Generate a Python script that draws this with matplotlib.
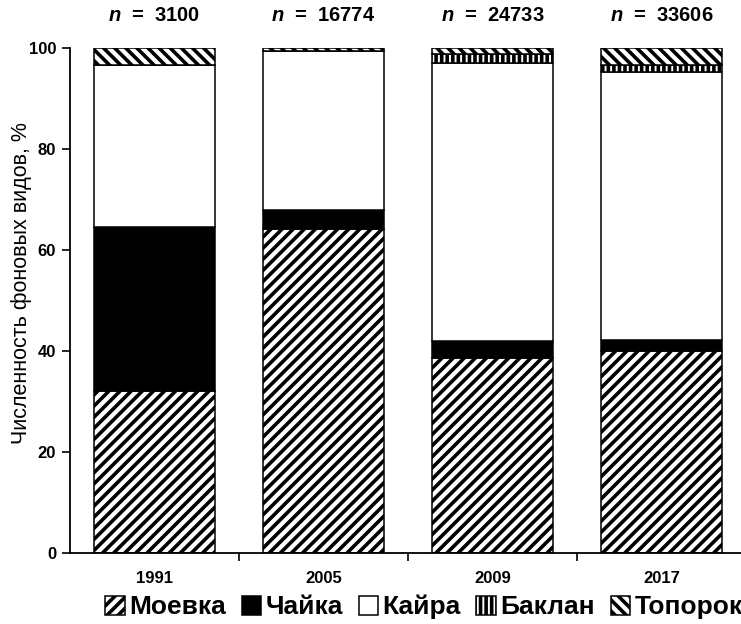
import matplotlib
matplotlib.use("Agg")
import matplotlib.pyplot as plt
from matplotlib import font_manager
import numpy as np

plt.rcParams['font.family'] = ['Liberation Sans', 'DejaVu Sans']
plt.rcParams['hatch.linewidth'] = 2.6
plt.rcParams['mathtext.fontset'] = 'custom'
plt.rcParams['mathtext.it'] = 'Liberation Sans:italic:bold'
plt.rcParams['mathtext.rm'] = 'Liberation Sans:bold'

available = {f.name for f in font_manager.fontManager.ttflist}
narrow = 'Liberation Sans Narrow' if 'Liberation Sans Narrow' in available else 'Liberation Sans'

years = ['1991', '2005', '2009', '2017']
n_values = ['3100', '16774', '24733', '33606']
species = ['Моевка', 'Чайка', 'Кайра', 'Баклан', 'Топорок']
moevka = [32.0, 64.2, 38.6, 40.0]
chaika = [32.6, 3.8, 3.4, 2.2]
kaira = [32.0, 31.5, 55.0, 53.1]
baklan = [0.0, 0.0, 1.8, 1.4]
toporok = [3.4, 0.5, 1.2, 3.3]

series = [moevka, chaika, kaira, baklan, toporok]
faces = ['white', 'black', 'white', 'white', 'white']
hatches = ['///', None, None, '|||', '\\\\\\']

fig = plt.figure(figsize=(7.41, 6.24), dpi=100)
ax = fig.add_axes([70/741, 1-553/624, 676/741, (553-48)/624])

x = np.arange(len(years))
bottom = np.zeros(len(years))
handles = []
for vals, fc, h, name in zip(series, faces, hatches, species):
    bars = ax.bar(x, vals, width=0.72, bottom=bottom, color=fc, edgecolor='black',
                  linewidth=1.1, hatch=h, label=name)
    handles.append(bars)
    bottom += np.array(vals)

ax.set_xlim(-0.5, 3.5)
ax.set_ylim(0, 100)
ax.set_yticks([0, 20, 40, 60, 80, 100])
ax.set_xticks(x)
ax.set_xticklabels(years, fontsize=13 if narrow != 'Liberation Sans' else 12,
                   fontweight='bold', family=narrow)
ax.set_xticks([0.5, 1.5, 2.5], minor=True)
ax.tick_params(axis='x', which='major', length=0, pad=13)
ax.tick_params(axis='x', which='minor', length=6, width=1.2, direction='out')
ax.tick_params(axis='y', length=6, width=1.2, direction='out', pad=4)
for lab in ax.get_yticklabels():
    lab.set_fontweight('bold')
    lab.set_family(narrow)
    lab.set_fontsize(14 if narrow != 'Liberation Sans' else 12)
for s in ['top', 'right']:
    ax.spines[s].set_visible(False)
for s in ['left', 'bottom']:
    ax.spines[s].set_linewidth(1.3)
ax.set_ylabel('Численность фоновых видов, %', fontsize=15.5)
ax.yaxis.set_label_coords(-0.056, 0.535)

for xi, nv in zip(x, n_values):
    ax.annotate('$n$  =  ' + nv, (xi, 106.5), ha='center', va='center',
                fontsize=14.5, fontweight='bold', annotation_clip=False)

fig.legend(handles=handles, labels=species, loc='center', bbox_to_anchor=(0.572, 0.027),
           ncol=5, frameon=False, handlelength=0.75, handleheight=0.75,
           handletextpad=0.15, columnspacing=0.6, borderaxespad=0,
           prop={'size': 19, 'weight': 'bold'})

fig.savefig('out.png', dpi=100)
